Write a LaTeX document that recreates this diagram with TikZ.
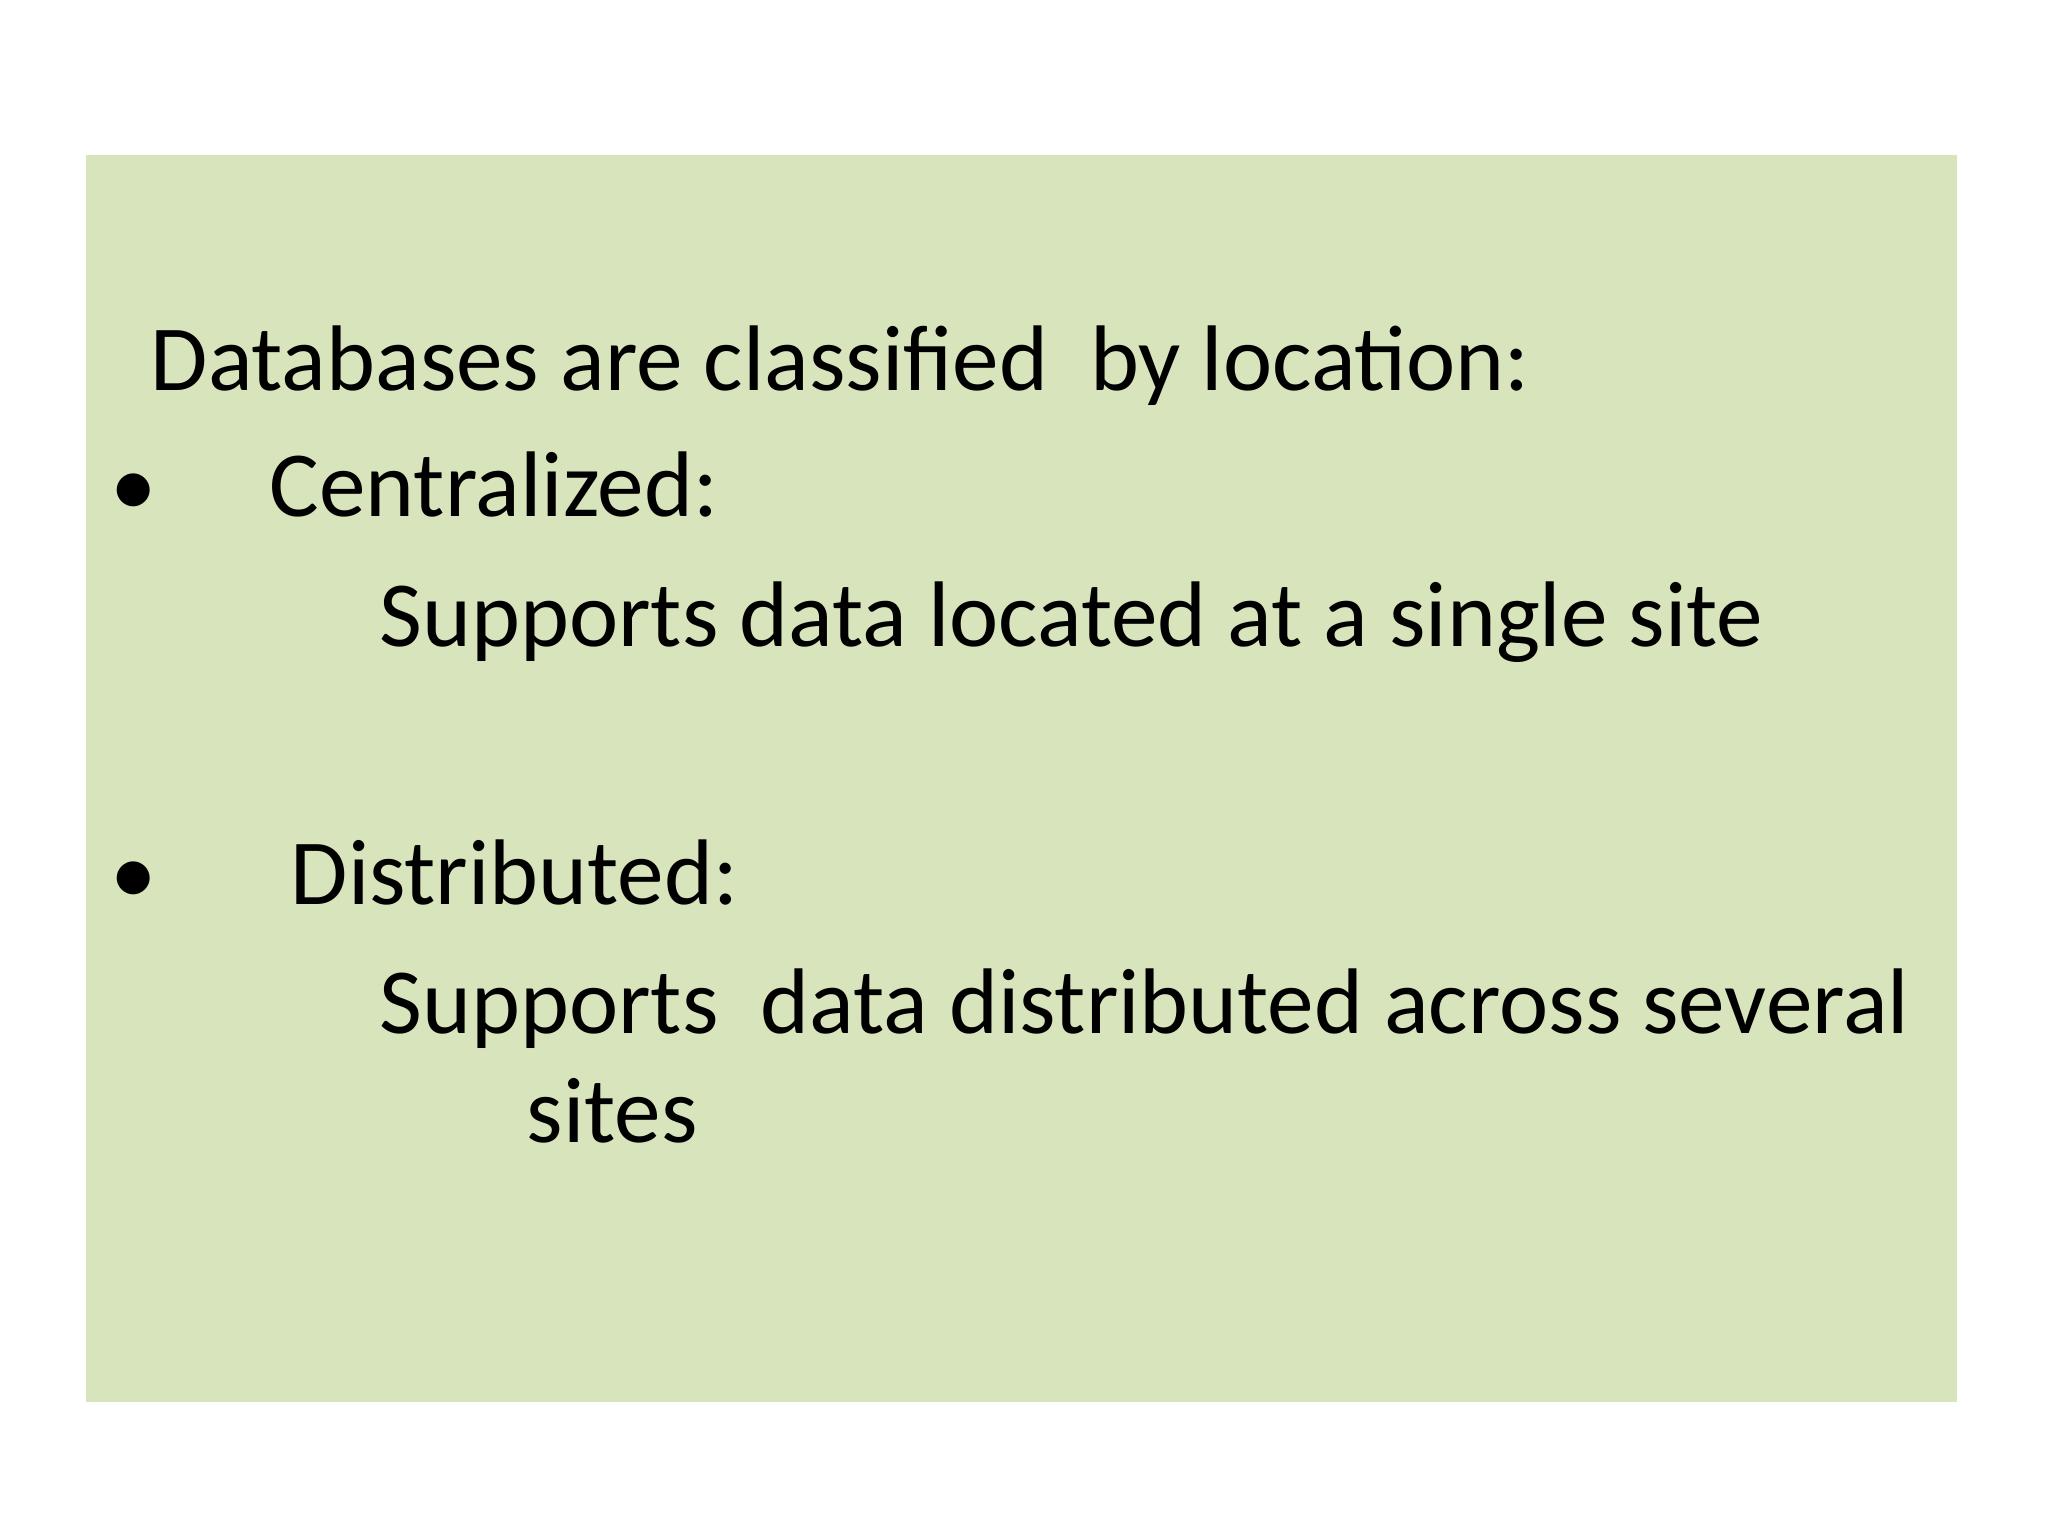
\documentclass[tikz,border=0pt]{standalone}
\usepackage{fontspec}
\setmainfont{Carlito}
\definecolor{bgg}{HTML}{D8E4BC}
\begin{document}
\begin{tikzpicture}[x=0.01cm,y=0.01cm,
  txt/.style={anchor=base west,inner sep=0pt,font=\fontsize{26.5}{32}\selectfont}]
\useasboundingbox (0,0) rectangle (2048,1536);
\fill[bgg] (86,134) rectangle (1957,1381);
\node[txt] (t1) at (150,1145) {Databases are classified\ \ by location:};
\node[txt] (b1) at (110,1019) {•};
\node[txt] (t2) at (269,1019) {Centralized:};
\node[txt] (t3) at (379,889) {Supports data located at a single site};
\node[txt] (b2) at (110,631) {•};
\node[txt] (t4) at (290,631) {Distributed:};
\node[txt] (t5) at (379,502) {Supports\ \ data distributed across several};
\node[txt] (t6) at (526,393) {sites};
\end{tikzpicture}
\end{document}
